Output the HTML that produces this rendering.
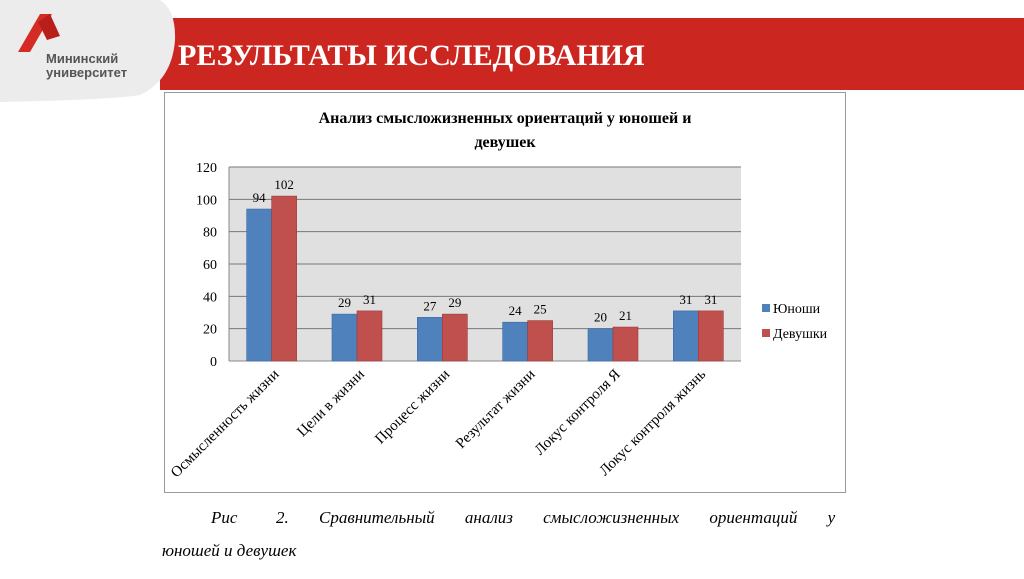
<!DOCTYPE html>
<html><head><meta charset="utf-8">
<style>
body{margin:0;width:1024px;height:574px;overflow:hidden;background:#fff;font-family:"Liberation Serif",serif;}
</style></head>
<body>
<svg width="1024" height="574" xmlns="http://www.w3.org/2000/svg">
<rect x="160" y="18" width="864" height="72" fill="#cc2620"/>
<path d="M0,0 L160,0 Q176,10 175,40 Q172,80 140,95 Q110,100 0,102 Z" fill="#ececec"/>
<polygon points="18,52 40,14 52,14 30,52" fill="#d52b25"/>
<polygon points="38,22 50,14 60,36 47,40" fill="#b81f1b"/>
<text x="46" y="63" font-family="Liberation Sans,sans-serif" font-size="13" font-weight="bold" fill="#555">Мининский</text>
<text x="46" y="77" font-family="Liberation Sans,sans-serif" font-size="13" font-weight="bold" fill="#555">университет</text>
<text x="178" y="65" font-size="30" font-weight="bold" fill="#fff">РЕЗУЛЬТАТЫ ИССЛЕДОВАНИЯ</text>
<rect x="164.5" y="92.5" width="681" height="400" fill="#fff" stroke="#999"/>
<text x="505" y="123" text-anchor="middle" font-size="16" font-weight="bold">Анализ смысложизненных ориентаций у юношей и</text>
<text x="505" y="147" text-anchor="middle" font-size="16" font-weight="bold">девушек</text>
<g id="plot"></g>
<rect x="762" y="304" width="8" height="8" fill="#4f81bd"/>
<text x="773" y="313" font-size="14">Юноши</text>
<rect x="762" y="329" width="8" height="8" fill="#c0504d"/>
<text x="773" y="338" font-size="14">Девушки</text>
<text y="523" font-size="17" font-style="italic"><tspan x="211">Рис</tspan><tspan x="276" word-spacing="26">2. Сравнительный анализ смысложизненных ориентаций у</tspan></text>
<text x="162" y="556" font-size="17" font-style="italic">юношей и девушек</text>
</svg>
<script>
const categories=["Осмысленность жизни","Цели в жизни","Процесс жизни","Результат жизни","Локус контроля Я","Локус контроля жизнь"];
const boys=[94,29,27,24,20,31];
const girls=[102,31,29,25,21,31];
const ticks=[0,20,40,60,80,100,120];
const NS="http://www.w3.org/2000/svg";
const L=229,R=741,T=167,B=361,MAX=120;
const y=v=>B-(v/MAX)*(B-T);
const cw=(R-L)/categories.length;
const cx=i=>L+cw*(i+0.5);
const g=document.getElementById('plot');
function mk(t,a,txt){const e=document.createElementNS(NS,t);for(const k in a)e.setAttribute(k,a[k]);if(txt!==undefined)e.textContent=txt;g.appendChild(e);return e;}
let bg=mk('rect',{x:L,y:T,width:R-L,height:B-T,fill:'#e0e0e0'});


ticks.forEach(t=>{
 let ln=mk('line',{x1:L,x2:R,y1:y(t),y2:y(t),stroke:t===0?'#888':'#777','stroke-width':1});
 
 
 let tx=mk('text',{x:L-12,y:y(t)+5,'text-anchor':'end','font-size':14},t);
 
 
});
let ax=mk('line',{x1:L,x2:L,y1:T,y2:B,stroke:'#888'});


const bw=25;
categories.forEach((c,i)=>{
 [[boys,'#4f81bd','#3a6aa0',-bw],[girls,'#c0504d','#9c3a37',0]].forEach(([arr,f,s,off],k)=>{
  const v=arr[i];
  let r=mk('rect',{x:cx(i)+off,y:y(v),width:bw,height:B-y(v),fill:f,stroke:s,'stroke-width':0.6});
  
  
  let l=mk('text',{x:cx(i)+off+bw/2,y:y(v)-7,'text-anchor':'middle','font-size':13},v);
  
  
 });
 let cl=mk('text',{x:0,y:0,'text-anchor':'end','font-size':15,transform:`translate(${cx(i)+8},${B+14}) rotate(-45)`},c);
 
 
});
</script>
</body></html>
